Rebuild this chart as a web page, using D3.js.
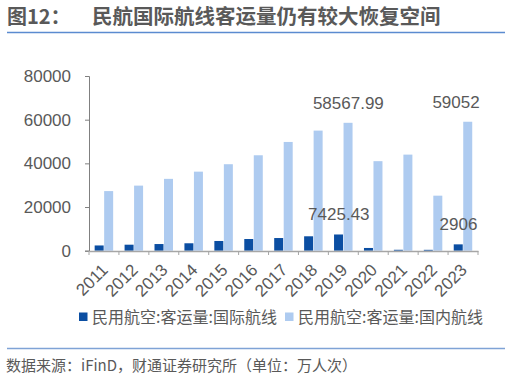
<!DOCTYPE html>
<html>
<head>
<meta charset="utf-8">
<script src="https://cdn.jsdelivr.net/npm/d3@7"></script>
<style>
  body { margin: 0; background: #fff; }
  svg { display: block; font-family: "Liberation Sans", Arial, "Noto Sans CJK SC", sans-serif; }
</style>
</head>
<body>
<script>
const years = ['2011','2012','2013','2014','2015','2016','2017','2018','2019','2020','2021','2022','2023'];
const intl = [2400, 2750, 3050, 3400, 4450, 5350, 5800, 6600, 7425.43, 1250, 420, 400, 2906];
const domestic = [27300, 29800, 32900, 36200, 39600, 43700, 49800, 55000, 58567.99, 41000, 44000, 25200, 59052];
const yTicks = [0, 20000, 40000, 60000, 80000];
const seriesNames = ['民用航空:客运量:国际航线', '民用航空:客运量:国内航线'];
const colors = ['#0b4ea2', '#aecbf0'];
// labelled points: [series index, year, text, x offset]
const labels = [[1, '2019', '58567.99', 0], [1, '2023', '59052', -12], [0, '2019', '7425.43', 0], [0, '2023', '2906', 0]];

const width = 510, height = 379;
const svg = d3.select('body').append('svg')
    .attr('width', width)
    .attr('height', height);

// title
svg.append('text')
    .attr('x', 7).attr('y', 24)
    .attr('fill', '#595959')
    .style('font-size', '20px')
    .style('font-family', '"Noto Sans CJK SC", sans-serif')
    .style('font-weight', 'bold')
    .text('图12：');
svg.append('text')
    .attr('x', 92).attr('y', 24)
    .attr('fill', '#595959')
    .style('font-size', '20.5px')
    .style('font-family', '"Noto Sans CJK SC", sans-serif')
    .style('font-weight', 'bold')
    .text('民航国际航线客运量仍有较大恢复空间');
svg.append('line')
    .attr('x1', 7).attr('x2', 505).attr('y1', 32.5).attr('y2', 32.5)
    .attr('stroke', '#5b8bd0').attr('stroke-width', 1.5);

const x = d3.scaleBand().domain(years).range([89, 478]);
const y = d3.scaleLinear().domain([0, 80000]).range([250.7, 76]);
const barW = 9;

const chart = svg.append('g');

// y axis
const yAxis = chart.append('g')
    .attr('transform', 'translate(89,0)')
    .call(d3.axisLeft(y).tickValues(yTicks).tickSize(4).tickPadding(14).tickFormat(d3.format('d')));
yAxis.select('.domain').attr('stroke', '#808080');
yAxis.selectAll('.tick line').attr('stroke', '#808080');
yAxis.selectAll('text').attr('fill', '#595959').style('font-size', '17px');

// bars
[intl, domestic].forEach((vals, si) => {
    chart.append('g').selectAll('rect')
        .data(vals)
        .join('rect')
        .attr('x', (d, i) => x(years[i]) + x.bandwidth() / 2 - barW + si * (barW + 0.5) - 0.3)
        .attr('y', d => y(d))
        .attr('width', barW)
        .attr('height', d => y(0) - y(d))
        .attr('fill', colors[si]);
});

// x axis
const xAxis = chart.append('g')
    .attr('transform', 'translate(0,251)')
    .call(d3.axisBottom(x).tickSize(0).tickPadding(0));
xAxis.select('.domain').attr('stroke', '#a6a6a6').attr('stroke-width', 1.5);
xAxis.selectAll('.tick text')
    .attr('fill', '#595959')
    .style('font-size', '17px')
    .attr('text-anchor', 'end')
    .attr('dy', 0)
    .attr('transform', 'translate(5,20) rotate(-45)');
chart.append('g').selectAll('line')
    .data(years.concat(['end']))
    .join('line')
    .attr('x1', (d, i) => x.range()[0] + i * x.step())
    .attr('x2', (d, i) => x.range()[0] + i * x.step())
    .attr('y1', 251).attr('y2', 255)
    .attr('stroke', '#a6a6a6');

// data labels
chart.append('g').selectAll('text')
    .data(labels)
    .join('text')
    .attr('x', d => x(d[1]) + x.bandwidth() / 2 - barW / 2 + d[0] * (barW + 0.5) + d[3])
    .attr('y', d => y((d[0] ? domestic : intl)[years.indexOf(d[1])]) - 14)
    .attr('text-anchor', 'middle')
    .attr('fill', '#595959')
    .style('font-size', '17px')
    .text(d => d[2]);

// legend
const legend = svg.append('g').attr('transform', 'translate(79,317)');
const legX = [0, 206];
seriesNames.forEach((name, i) => {
    legend.append('rect')
        .attr('x', legX[i]).attr('y', -4.5)
        .attr('width', 8.5).attr('height', 8.5)
        .attr('fill', colors[i]);
    legend.append('text')
        .attr('x', legX[i] + 13).attr('y', 6)
        .attr('fill', '#595959')
        .style('font-size', '16px')
        .style('font-family', '"Noto Sans CJK SC", sans-serif')
        .text(name);
});

// footer
svg.append('line')
    .attr('x1', 7).attr('x2', 505).attr('y1', 348.5).attr('y2', 348.5)
    .attr('stroke', '#7fa3d6').attr('stroke-width', 1.5);
svg.append('text')
    .attr('x', 6).attr('y', 371)
    .attr('fill', '#595959')
    .style('font-size', '15px')
    .style('font-family', '"Noto Sans CJK SC", sans-serif')
    .text('数据来源：iFinD，财通证券研究所（单位：万人次）');
</script>
</body>
</html>
